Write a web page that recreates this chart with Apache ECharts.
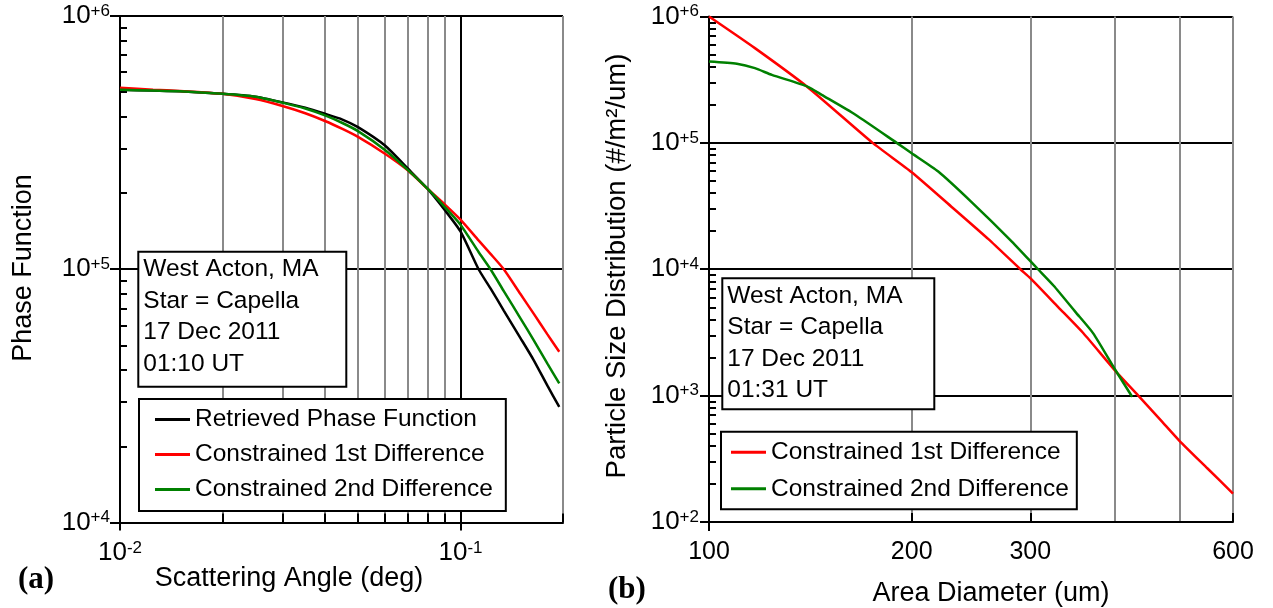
<!DOCTYPE html>
<html>
<head>
<meta charset="utf-8">
<script src="https://cdn.jsdelivr.net/npm/echarts@6/dist/echarts.min.js"></script>
<style>html,body{margin:0;padding:0;background:#fff}#c{width:1273px;height:608px}</style>
</head>
<body>
<div id="c"></div>
<script>
// ---------- data: panel (a) ----------
const angle = [0.01, 0.0125, 0.015, 0.02, 0.025, 0.03, 0.035, 0.04, 0.045, 0.05, 0.06, 0.07, 0.08, 0.09, 0.1, 0.113, 0.1225, 0.134, 0.15, 0.164, 0.18, 0.195];
const retrieved = [5.11e5, 5.08e5, 5.04e5, 4.93e5, 4.80e5, 4.56e5, 4.34e5, 4.11e5, 3.90e5, 3.64e5, 3.08e5, 2.50e5, 2.08e5, 1.71e5, 1.41e5, 1.0e5, 8.4e4, 6.87e4, 5.35e4, 4.38e4, 3.47e4, 2.86e4];
const firstDiffA = [5.21e5, 5.12e5, 5.06e5, 4.93e5, 4.70e5, 4.41e5, 4.13e5, 3.85e5, 3.58e5, 3.33e5, 2.86e5, 2.46e5, 2.08e5, 1.80e5, 1.57e5, 1.30e5, 1.15e5, 1.0e5, 7.98e4, 6.68e4, 5.53e4, 4.72e4];
const secondDiffA = [5.11e5, 5.08e5, 5.04e5, 4.93e5, 4.80e5, 4.55e5, 4.31e5, 4.05e5, 3.78e5, 3.51e5, 2.96e5, 2.47e5, 2.08e5, 1.76e5, 1.50e5, 1.17e5, 1.0e5, 8.2e4, 6.4e4, 5.25e4, 4.24e4, 3.54e4];

// ---------- data: panel (b) ----------
const diamRed = [100, 117, 140, 175, 200, 230, 260, 290, 300, 330, 360, 400, 434, 470, 500, 550, 600];
const psdRed = [1.0e6, 5.62e5, 2.77e5, 1.0e5, 5.86e4, 3.07e4, 1.73e4, 1.0e4, 8.5e3, 5.02e3, 3.1e3, 1.6e3, 1.0e3, 628, 437, 265, 168];
const diamGreen = [100, 110, 117, 124, 140, 147, 165, 190, 200, 219, 245, 280, 308, 325, 350, 372, 400, 425];
const psdGreen = [4.40e5, 4.22e5, 3.90e5, 3.45e5, 2.79e5, 2.40e5, 1.67e5, 1.0e5, 8.28e4, 5.93e4, 3.43e4, 1.71e4, 1.0e4, 7.4e3, 4.6e3, 3.11e3, 1.64e3, 980];

// ---------- ticks / labels ----------
const phaseTicks = [1e4, 1e5, 1e6];
const phaseTickExp = ['+4', '+5', '+6'];
const phaseMinor = [2e4, 3e4, 4e4, 5e4, 6e4, 7e4, 8e4, 9e4, 2e5, 3e5, 4e5, 5e5, 6e5, 7e5, 8e5, 9e5];
const angleTicks = [0.01, 0.1];
const angleTickExp = ['-2', '-1'];
const angleMinor = [0.02, 0.03, 0.04, 0.05, 0.06, 0.07, 0.08, 0.09, 0.2];
const psdTicks = [1e2, 1e3, 1e4, 1e5, 1e6];
const psdTickExp = ['+2', '+3', '+4', '+5', '+6'];
const psdMinor = [2e2, 3e2, 4e2, 5e2, 6e2, 7e2, 8e2, 9e2, 2e3, 3e3, 4e3, 5e3, 6e3, 7e3, 8e3, 9e3,
                  2e4, 3e4, 4e4, 5e4, 6e4, 7e4, 8e4, 9e4, 2e5, 3e5, 4e5, 5e5, 6e5, 7e5, 8e5, 9e5];
const diamMajor = [100];
const diamLabels = [100, 200, 300, 600];
const diamGrid = [200, 300, 400, 500, 600];
const diamMinorTicks = [200, 300, 600];

const seriesNames = ['Retrieved Phase Function', 'Constrained 1st Difference', 'Constrained 2nd Difference'];
const noteA = ['West Acton, MA', 'Star = Capella', '17 Dec 2011', '01:10 UT'];
const noteB = ['West Acton, MA', 'Star = Capella', '17 Dec 2011', '01:31 UT'];

// ---------- styling ----------
const FONT = "'Liberation Sans', Arial, sans-serif";
const GRAY = '#8a8a8a';
const rich = {
  b: {fontSize: 26, fontFamily: FONT, color: '#000', lineHeight: 27},
  s: {fontSize: 17, fontFamily: FONT, color: '#000', lineHeight: 17, verticalAlign: 'top'},
  n: {fontSize: 25, fontFamily: FONT, color: '#000', lineHeight: 27}
};
function powLabel(values, exps) {
  return function (v) {
    const i = values.findIndex(t => Math.abs(t - v) <= t * 1e-6);
    return i < 0 ? '' : '{b|10}{s|' + exps[i] + '}';
  };
}
function zip(xs, ys) { return xs.map((x, i) => [x, ys[i]]); }
const SMOOTH = 0.2;

const option = {
  backgroundColor: '#fff',
  animation: false,
  grid: [
    {left: 120, top: 16, width: 443, height: 506.5, containLabel: false, outerBoundsMode: 'none'},
    {left: 709, top: 16.5, width: 524, height: 505.5, containLabel: false, outerBoundsMode: 'none'}
  ],
  xAxis: [
    {type: 'log', gridIndex: 0, min: 0.01, max: 0.2, position: 'bottom',
     axisLine: {show: true, onZero: false, lineStyle: {color: '#000', width: 2}},
     axisTick: {show: true, inside: false, length: 8, customValues: angleTicks, lineStyle: {color: '#000', width: 2}},
     axisLabel: {show: true, customValues: angleTicks, margin: 17, formatter: powLabel(angleTicks, angleTickExp), rich: rich},
     splitLine: {show: true, customValues: angleTicks, lineStyle: {color: '#000', width: 2}},
     minorTick: {show: false}, minorSplitLine: {show: false}},
    {type: 'log', gridIndex: 0, min: 0.01, max: 0.2, position: 'bottom',
     axisLine: {show: false, onZero: false},
     axisTick: {show: true, inside: true, length: 9, customValues: angleMinor, lineStyle: {color: '#000', width: 2}},
     axisLabel: {show: false},
     splitLine: {show: true, customValues: angleMinor, lineStyle: {color: GRAY, width: 2}}},
    {type: 'log', gridIndex: 1, min: 100, max: 600, position: 'bottom',
     axisLine: {show: true, onZero: false, lineStyle: {color: '#000', width: 2}},
     axisTick: {show: true, inside: false, length: 9, customValues: diamMajor, lineStyle: {color: '#000', width: 2}},
     axisLabel: {show: true, customValues: diamLabels, margin: 17, formatter: v => '{n|' + Math.round(v) + '}', rich: rich},
     splitLine: {show: false}},
    {type: 'log', gridIndex: 1, min: 100, max: 600, position: 'bottom',
     axisLine: {show: false, onZero: false},
     axisTick: {show: false, customValues: diamGrid},
     axisLabel: {show: false},
     splitLine: {show: true, customValues: diamGrid, lineStyle: {color: GRAY, width: 2}}},
    {type: 'log', gridIndex: 1, min: 100, max: 600, position: 'bottom',
     axisLine: {show: false, onZero: false},
     axisTick: {show: true, inside: true, length: 9, customValues: diamMinorTicks, lineStyle: {color: '#000', width: 2}},
     axisLabel: {show: false},
     splitLine: {show: false}}
  ],
  yAxis: [
    {type: 'log', gridIndex: 0, min: 1e4, max: 1e6, position: 'left',
     axisLine: {show: true, onZero: false, lineStyle: {color: '#000', width: 2}},
     axisTick: {show: true, inside: false, length: 10, customValues: phaseTicks, lineStyle: {color: '#000', width: 2}},
     axisLabel: {show: true, customValues: phaseTicks, margin: 10, formatter: powLabel(phaseTicks, phaseTickExp), rich: rich},
     splitLine: {show: true, customValues: phaseTicks, lineStyle: {color: '#000', width: 2}}},
    {type: 'log', gridIndex: 0, min: 1e4, max: 1e6, position: 'left',
     axisLine: {show: false, onZero: false},
     axisTick: {show: true, inside: true, length: 7, customValues: phaseMinor, lineStyle: {color: '#000', width: 2}},
     axisLabel: {show: false},
     splitLine: {show: false}},
    {type: 'log', gridIndex: 1, min: 1e2, max: 1e6, position: 'left',
     axisLine: {show: true, onZero: false, lineStyle: {color: '#000', width: 2}},
     axisTick: {show: true, inside: false, length: 9, customValues: psdTicks, lineStyle: {color: '#000', width: 2}},
     axisLabel: {show: true, customValues: psdTicks, margin: 10, formatter: powLabel(psdTicks, psdTickExp), rich: rich},
     splitLine: {show: true, customValues: psdTicks, lineStyle: {color: '#000', width: 2}}},
    {type: 'log', gridIndex: 1, min: 1e2, max: 1e6, position: 'left',
     axisLine: {show: false, onZero: false},
     axisTick: {show: true, inside: true, length: 7, customValues: psdMinor, lineStyle: {color: '#000', width: 2}},
     axisLabel: {show: false},
     splitLine: {show: false}}
  ],
  legend: [
    {data: seriesNames, orient: 'vertical', left: 139, top: 399, padding: [8, 13, 9, 16],
     itemGap: 10, itemWidth: 35, itemHeight: 3, icon: 'rect', selectedMode: false,
     borderColor: '#000', borderWidth: 2, backgroundColor: '#fff',
     textStyle: {fontSize: 24.5, fontFamily: FONT, color: '#000', lineHeight: 25}},
    {data: seriesNames.slice(1), orient: 'vertical', left: 721, top: 431.7, padding: [8, 8, 8, 10],
     itemGap: 11.6, itemWidth: 35, itemHeight: 3, icon: 'rect', selectedMode: false,
     borderColor: '#000', borderWidth: 2, backgroundColor: '#fff',
     textStyle: {fontSize: 24.5, fontFamily: FONT, color: '#000', lineHeight: 25}}
  ],
  title: [
    {text: noteA.join('\n'), left: 137.7, top: 251.7, padding: [2, 28, 7, 5.6],
     borderColor: '#000', borderWidth: 2, backgroundColor: '#fff',
     textStyle: {fontSize: 24.5, fontWeight: 'normal', fontFamily: FONT, color: '#000', lineHeight: 31.5}},
    {text: noteB.join('\n'), left: 722.3, top: 278.3, padding: [2, 32, 3, 5],
     borderColor: '#000', borderWidth: 2, backgroundColor: '#fff',
     textStyle: {fontSize: 24.5, fontWeight: 'normal', fontFamily: FONT, color: '#000', lineHeight: 31.5}}
  ],
  graphic: [
    {type: 'text', x: 24, y: 268, rotation: Math.PI / 2,
     style: {text: 'Phase Function', fontSize: 27, fontFamily: FONT, fill: '#000', align: 'center', verticalAlign: 'middle', textAlign: 'center', textVerticalAlign: 'middle'}},
    {type: 'text', x: 289, y: 579,
     style: {text: 'Scattering Angle (deg)', fontSize: 27, fontFamily: FONT, fill: '#000', align: 'center', verticalAlign: 'middle', textAlign: 'center', textVerticalAlign: 'middle'}},
    {type: 'text', x: 617, y: 266, rotation: Math.PI / 2,
     style: {text: 'Particle Size Distribution (#/m²/um)', fontSize: 27.5, fontFamily: FONT, fill: '#000', align: 'center', verticalAlign: 'middle', textAlign: 'center', textVerticalAlign: 'middle'}},
    {type: 'text', x: 991, y: 594,
     style: {text: 'Area Diameter (um)', fontSize: 27, fontFamily: FONT, fill: '#000', align: 'center', verticalAlign: 'middle', textAlign: 'center', textVerticalAlign: 'middle'}},
    {type: 'text', x: 18, y: 580,
     style: {text: '(a)', fontSize: 31, fontWeight: 'bold', fontFamily: "'Liberation Serif', 'Times New Roman', serif", fill: '#000', align: 'left', verticalAlign: 'middle', textAlign: 'left', textVerticalAlign: 'middle'}},
    {type: 'text', x: 608, y: 590,
     style: {text: '(b)', fontSize: 31, fontWeight: 'bold', fontFamily: "'Liberation Serif', 'Times New Roman', serif", fill: '#000', align: 'left', verticalAlign: 'middle', textAlign: 'left', textVerticalAlign: 'middle'}}
  ],
  series: [
    {name: seriesNames[0], type: 'line', xAxisIndex: 0, yAxisIndex: 0, showSymbol: false, symbol: 'none', smooth: SMOOTH,
     color: '#000000', lineStyle: {color: '#000000', width: 2.5}, data: zip(angle, retrieved), z: 3},
    {name: seriesNames[1], type: 'line', xAxisIndex: 0, yAxisIndex: 0, showSymbol: false, symbol: 'none', smooth: SMOOTH,
     color: '#ff0000', lineStyle: {color: '#ff0000', width: 2.5}, data: zip(angle, firstDiffA), z: 3},
    {name: seriesNames[2], type: 'line', xAxisIndex: 0, yAxisIndex: 0, showSymbol: false, symbol: 'none', smooth: SMOOTH,
     color: '#008000', lineStyle: {color: '#008000', width: 2.5}, data: zip(angle, secondDiffA), z: 3},
    {name: seriesNames[1], type: 'line', xAxisIndex: 2, yAxisIndex: 2, showSymbol: false, symbol: 'none', smooth: SMOOTH,
     color: '#ff0000', lineStyle: {color: '#ff0000', width: 2.5}, data: zip(diamRed, psdRed), z: 3},
    {name: seriesNames[2], type: 'line', xAxisIndex: 2, yAxisIndex: 2, showSymbol: false, symbol: 'none', smooth: SMOOTH,
     color: '#008000', lineStyle: {color: '#008000', width: 2.5}, data: zip(diamGreen, psdGreen), z: 3}
  ]
};
const chart = echarts.init(document.getElementById('c'), null, {renderer: 'canvas'});
chart.setOption(option);
</script>
</body>
</html>
